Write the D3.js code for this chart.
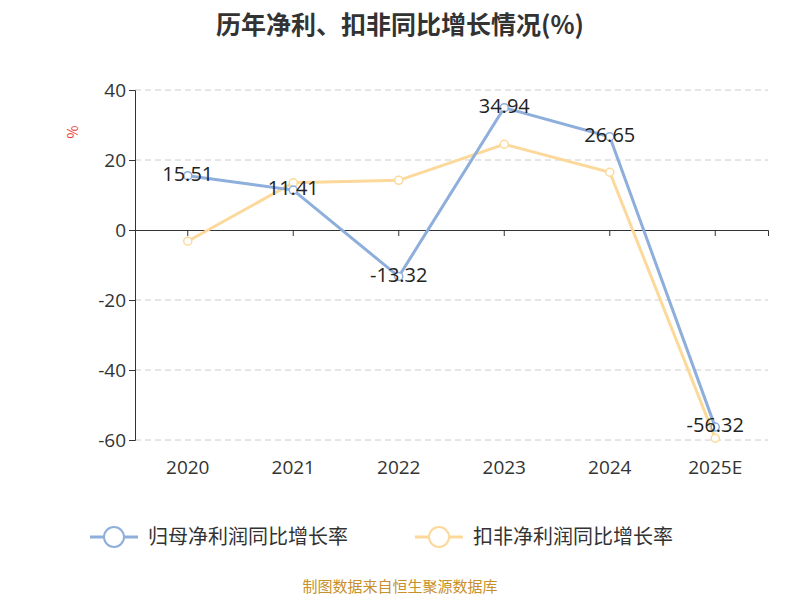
<!DOCTYPE html>
<html><head><meta charset="utf-8">
<script src="https://cdn.jsdelivr.net/npm/d3@7"></script>
<style>body{margin:0;background:#fff}</style></head>
<body><svg id="c" width="800" height="600"></svg>
<script>
const categories=["2020","2021","2022","2023","2024","2025E"];
const netGrowth=[15.51,11.41,-13.32,34.94,26.65,-56.32];
const deductGrowth=[-3.2,13.5,14.2,24.5,16.5,-59.5];
const yTicks=[40,20,0,-20,-40,-60];
const seriesNames=["归母净利润同比增长率","扣非净利润同比增长率"];
const colors=["#8eaedc","#fcd99a"];
const font="Noto Sans CJK SC, Noto Sans, sans-serif";
const numFont="Open Sans, Noto Sans, sans-serif";
const svg=d3.select("#c");
const x=d3.scaleBand().domain(categories).range([135,768]);
const y=d3.scaleLinear().domain([-60,40]).range([440,90]);
svg.append("text").attr("x",400).attr("y",34).attr("text-anchor","middle").attr("font-family",font).attr("font-size",25).attr("font-weight","bold").attr("fill","#333").text("历年净利、扣非同比增长情况(%)");
const g=svg.append("g");
yTicks.forEach(t=>{ if(t!==0) g.append("line").attr("x1",135).attr("x2",768).attr("y1",y(t)).attr("y2",y(t)).attr("stroke","#ccc").attr("stroke-dasharray","6,4");});
const ya=svg.append("g").attr("transform","translate(135,0)").call(d3.axisLeft(y).tickValues(yTicks).tickSize(6).tickFormat(d=>String(d)));
ya.selectAll("text").attr("font-family",numFont).attr("font-size",19).attr("fill","#333");
ya.selectAll("line,path").attr("stroke","#333");
const xa=svg.append("g").attr("transform",`translate(0,${y(0)})`).call(d3.axisBottom(x).tickSize(6).tickFormat(""));
xa.selectAll("line,path").attr("stroke","#333");
categories.forEach(c=>svg.append("text").attr("x",x(c)+x.bandwidth()/2).attr("y",474).attr("text-anchor","middle").attr("font-family",numFont).attr("font-size",19).attr("fill","#333").text(c));
svg.append("text").attr("transform","translate(78,132) rotate(-90)").attr("text-anchor","middle").attr("font-family",font).attr("font-size",14).attr("fill","#e33").text("%");
const cx=c=>x(c)+x.bandwidth()/2;
[deductGrowth,netGrowth].forEach((s,k)=>{
 const col=k===0?colors[1]:colors[0];
 const line=d3.line().x((d,i)=>cx(categories[i])).y(d=>y(d));
 svg.append("path").attr("d",line(s)).attr("fill","none").attr("stroke",col).attr("stroke-width",3);
 s.forEach((d,i)=>svg.append("circle").attr("cx",cx(categories[i])).attr("cy",y(d)).attr("r",4).attr("fill","#fff").attr("stroke",col).attr("stroke-width",1.5));
});
netGrowth.forEach((d,i)=>svg.append("text").attr("x",cx(categories[i])).attr("y",y(d)+5).attr("text-anchor","middle").attr("font-family",numFont).attr("font-size",20).attr("fill","#222").text(d.toFixed(2)));
seriesNames.forEach((n,i)=>{
 const lx=i===0?90:415;
 svg.append("line").attr("x1",lx).attr("x2",lx+48).attr("y1",537).attr("y2",537).attr("stroke",colors[i]).attr("stroke-width",3);
 svg.append("circle").attr("cx",lx+24).attr("cy",537).attr("r",10).attr("fill","#fff").attr("stroke",colors[i]).attr("stroke-width",2);
 svg.append("text").attr("x",lx+58).attr("y",544).attr("font-family",font).attr("font-size",20).attr("fill","#333").text(n);
});
svg.append("text").attr("x",400).attr("y",592).attr("text-anchor","middle").attr("font-family",font).attr("font-size",15).attr("fill","#c8902a").text("制图数据来自恒生聚源数据库");
</script></body></html>
